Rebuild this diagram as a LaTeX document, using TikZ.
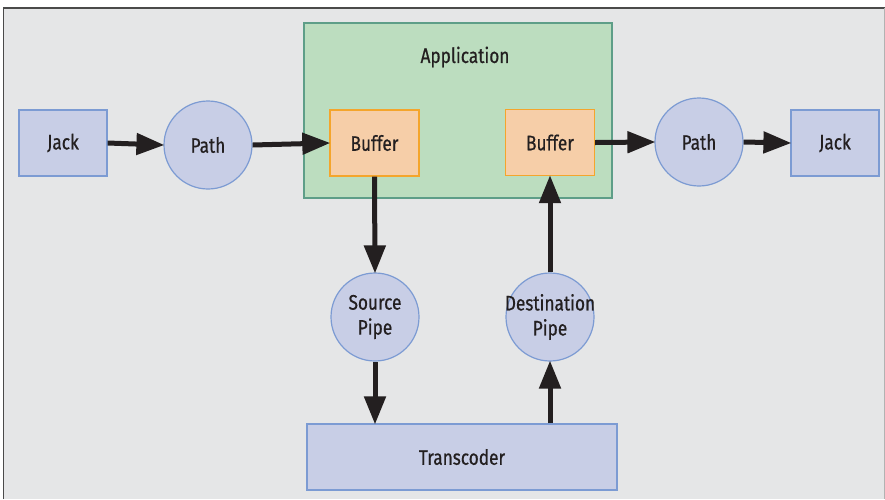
\documentclass[tikz,border=0pt]{standalone}
\usepackage{fontspec}
\setmainfont{Fira Sans}[FakeStretch=0.82, FakeBold=0.6]
\usetikzlibrary{arrows.meta}
\definecolor{bggray}{HTML}{E5E6E7}
\definecolor{framegray}{HTML}{4A4A4A}
\definecolor{bluefill}{HTML}{C8CEE6}
\definecolor{blueline}{HTML}{7C9BD3}
\definecolor{greenfill}{HTML}{BCDDBF}
\definecolor{greenline}{HTML}{5E9E88}
\definecolor{buffill}{HTML}{F6CEA8}
\definecolor{bufline}{HTML}{F4A52C}
\definecolor{ink}{HTML}{231F20}
\tikzset{
  x=1pt, y=-1pt,
  every node/.style={font=\fontsize{21}{23}\selectfont, text=ink, align=center, inner sep=0pt},
  bluebox/.style={draw=blueline, fill=bluefill, line width=1.2pt, minimum width=88pt, minimum height=66pt},
  bluecircle/.style={circle, draw=blueline, fill=bluefill, line width=1.2pt, minimum size=88pt},
  bufbox/.style={draw=bufline, fill=buffill, line width=1.4pt, minimum width=89pt, minimum height=66pt},
  appbox/.style={draw=greenline, fill=greenfill, line width=1.2pt, minimum width=308pt, minimum height=175pt},
  flow/.style={draw=ink, line width=5pt, -{Triangle[length=28pt,width=21pt]}, shorten >=-1pt},
}
\begin{document}
\begin{tikzpicture}
\useasboundingbox (0,0) rectangle (885,499);
\fill[white] (0,0) rectangle (885,499);
\fill[bggray] (3,8) rectangle (885,499);
\draw[framegray, line width=1.6pt] (3.5,499) -- (3.5,8) -- (885,8);
\draw[gray!60, line width=0.6pt] (884.5,8) -- (884.5,499);

\node[appbox] (app) at (458,110.5) {};
\node (applabel) at (465,57) {Application};

\node[bluebox] (jackL) at (63,143) {Jack};
\node[bluecircle] (pathL) at (208,145) {Path};
\node[bufbox] (bufL) at (374.5,143) {Buffer};
\node[bufbox] (bufR) at (550,142.5) {Buffer};
\node[bluecircle] (pathR) at (699,142) {Path};
\node[bluebox] (jackR) at (835,143) {Jack};
\node[bluecircle] (src) at (375,317) {Source\\[2pt]Pipe};
\node[bluecircle] (dst) at (550,317) {\makebox[0pt]{Destination}\\[2pt]Pipe};
\node[bluebox, minimum width=310pt] (trans) at (462,457) {Transcoder};

\draw[flow] (jackL.east) -- (pathL.west);
\draw[flow] (pathL.east) -- (bufL.west);
\draw[flow] (bufL.south) -- (src.north);
\draw[flow] (src.south) -- (src.south |- trans.north);
\draw[flow] (dst.south |- trans.north) -- (dst.south);
\draw[flow] (dst.north) -- (bufR.south);
\draw[flow] (bufR.east) -- (pathR.west);
\draw[flow] (pathR.east) -- (jackR.west);
\end{tikzpicture}
\end{document}
